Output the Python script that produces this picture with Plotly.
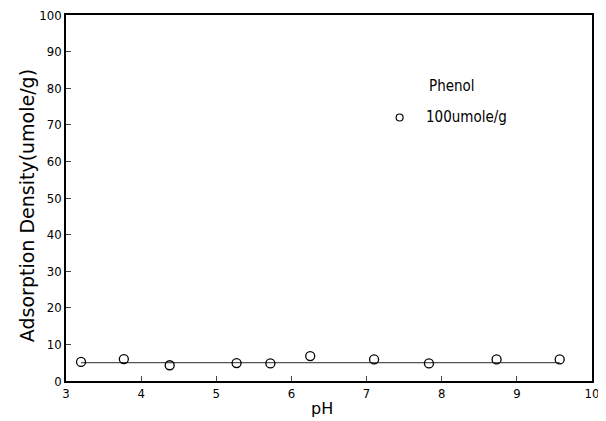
import plotly.graph_objects as go

ph = [3.2, 3.77, 4.38, 5.27, 5.72, 6.25, 7.1, 7.83, 8.73, 9.57]
density = [5.2, 6.0, 4.3, 4.9, 4.8, 6.8, 5.9, 4.8, 5.9, 5.9]
fit_x = [3.2, 9.57]
fit_y = [5.0, 5.0]
x_ticks = [3, 4, 5, 6, 7, 8, 9, 10]
y_ticks = [0, 10, 20, 30, 40, 50, 60, 70, 80, 90, 100]

FONT = "DejaVu Sans Condensed, Liberation Sans Narrow, DejaVu Sans, sans-serif"

fig = go.Figure()
fig.add_trace(go.Scatter(x=fit_x, y=fit_y, mode="lines",
                         line=dict(color="#555555", width=1.2), showlegend=False))
fig.add_trace(go.Scatter(x=ph, y=density, mode="markers",
                         marker=dict(symbol="circle-open", size=9, color="black",
                                     line=dict(width=1.3, color="black")),
                         showlegend=False))
# legend drawn as text
fig.add_trace(go.Scatter(x=[7.44], y=[72], mode="markers",
                         marker=dict(symbol="circle-open", size=7, color="black",
                                     line=dict(width=1.2, color="black")),
                         showlegend=False, hoverinfo="skip"))
fig.add_annotation(x=7.8, y=80.5, text="Phenol", showarrow=False, xanchor="left",
                   font=dict(family=FONT, size=15, color="black"))
fig.add_annotation(x=7.76, y=72, text="100umole/g", showarrow=False, xanchor="left",
                   font=dict(family=FONT, size=15, color="black"))

# axis titles
fig.add_annotation(xref="paper", yref="paper", x=-0.074, y=0.478, text="Adsorption Density(umole/g)",
                   textangle=-90, showarrow=False, xanchor="center", yanchor="middle",
                   font=dict(family="DejaVu Sans, sans-serif", size=19, color="black"))
fig.add_annotation(xref="paper", yref="paper", x=0.487, y=-0.074, text="pH",
                   showarrow=False, xanchor="center", yanchor="middle",
                   font=dict(family="DejaVu Sans, sans-serif", size=16, color="black"))

fig.update_xaxes(range=[3, 10], tickvals=x_ticks, ticks="inside", ticklen=5,
                 showline=True, linecolor="black", linewidth=1.5, mirror=True,
                 showgrid=False, zeroline=False, automargin=False,
                 ticklabeloverflow="allow",
                 tickfont=dict(family=FONT, size=13, color="black"))
fig.update_yaxes(range=[0, 100], tickvals=y_ticks, ticks="inside", ticklen=5,
                 showline=True, linecolor="black", linewidth=1.5, mirror=True,
                 showgrid=False, zeroline=False, automargin=False,
                 ticklabeloverflow="allow",
                 tickfont=dict(family=FONT, size=13, color="black"))
fig.update_layout(width=598, height=413, plot_bgcolor="white", paper_bgcolor="white",
                  margin=dict(l=58, r=14, t=7, b=40, autoexpand=False))
fig.write_html("out.html")
